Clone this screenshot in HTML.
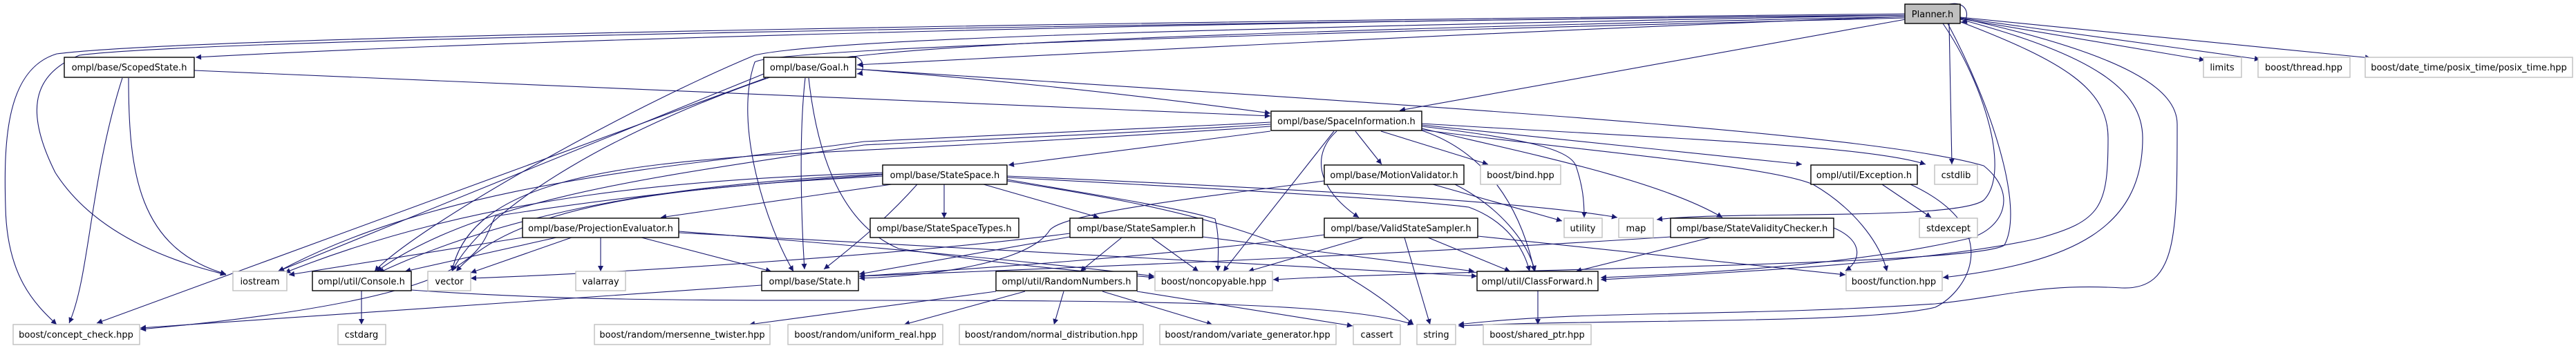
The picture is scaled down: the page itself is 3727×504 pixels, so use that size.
<!DOCTYPE html>
<html><head><meta charset="utf-8"><style>
html,body{margin:0;padding:0;background:#fff;}
svg{display:block;}
text{font-family:"DejaVu Sans","Liberation Sans",sans-serif;font-size:13px;fill:#000;}
.e{fill:none;stroke:#191970;stroke-width:1.1;}
.p{fill:#fff;stroke:#000;stroke-width:1.4;}
.s{fill:#fff;stroke:#bfbfbf;stroke-width:1.4;}
</style></head><body>
<svg width="3727" height="504" viewBox="0 0 3727 504" xmlns="http://www.w3.org/2000/svg">
<defs>
<marker id="a" viewBox="0 0 10 10" refX="10" refY="5" markerWidth="10" markerHeight="8" markerUnits="userSpaceOnUse" orient="auto">
<path d="M0,0 L10,5 L0,10 z" fill="#191970"/>
</marker>
</defs>
<g marker-end="url(#a)">
<!-- Planner edges -->
<path class="e" d="M2757,20 C1800,30 300,50 82,78 C10,100 5,200 8,300 C10,400 50,440 82,470"/>
<path class="e" d="M2757,22 C1800,32 300,55 115,80 C40,110 40,170 80,250 C150,360 300,390 327,398"/>
<path class="e" d="M2757,22 C1800,30 800,55 283,83"/>
<path class="e" d="M2757,24 C2300,40 1700,70 1240,94"/>
<path class="e" d="M2757,28 L2025,160"/>
<path class="e" d="M2757,22 C1800,40 1200,55 1092,80 C900,160 600,330 542,393"/>
<path class="e" d="M2757,24 C1800,45 1200,65 1150,100 C900,180 700,300 654,393"/>
<path class="e" d="M2757,26 C1800,50 1120,70 1092,90 C1060,180 1110,330 1148,393"/>
<path class="e" d="M2820,34 L2824,238"/>
<path class="e" d="M2811,34 C2870,120 2910,250 2870,290 C2830,320 2500,305 2397,318"/>
<path class="e" d="M2818,34 C2880,150 2930,300 2900,355 C2860,385 2100,390 1842,405"/>
<path class="e" d="M2832,30 C2990,90 3050,130 3050,200 C3050,300 3040,320 2950,345 C2800,380 2500,395 2316,405"/>
<path class="e" d="M2836,28 C3030,80 3100,130 3100,200 C3100,330 3000,380 2811,402"/>
<path class="e" d="M2836,26 C3080,80 3150,130 3150,180 C3150,340 3150,420 3070,417 C2950,410 2900,430 2800,440 C2500,460 2300,448 2110,470"/>
<path class="e" d="M2836,27 L3190,87"/>
<path class="e" d="M2836,26 L3270,86"/>
<path class="e" d="M2836,25 L3430,84"/>
<path class="e" d="M2820,6 C2850,0 2850,30 2838,32"/>
<!-- Goal -->
<path class="e" d="M1226,83 C1250,75 1255,105 1240,107"/>
<path class="e" d="M1239,100 C1500,120 1700,145 1838,164"/>
<path class="e" d="M1105,107 L402,393"/>
<path class="e" d="M1108,113 L140,468"/>
<path class="e" d="M1165,113 C1155,200 1160,330 1164,390"/>
<path class="e" d="M1170,113 C1185,250 1230,330 1300,360 C1500,390 1600,395 1670,402"/>
<path class="e" d="M1239,100 C2000,150 2700,190 2870,240 C2920,280 2900,330 2850,345 C2700,380 2500,395 2316,402"/>
<!-- ScopedState -->
<path class="e" d="M281,102 L1838,168"/>
<path class="e" d="M186,113 C186,250 200,360 327,397"/>
<path class="e" d="M177,113 C130,260 130,400 100,468"/>
<!-- SpaceInformation -->
<path class="e" d="M1838,190 L1459,239"/>
<path class="e" d="M1838,177 C1600,190 1350,200 1250,205 C1000,240 650,260 403,393"/>
<path class="e" d="M1838,180 C1600,195 1350,205 1250,210 C1000,250 700,280 545,393"/>
<path class="e" d="M1838,183 C1600,200 1300,215 1100,225 C900,240 680,260 654,393"/>
<path class="e" d="M1961,190 L1999,238"/>
<path class="e" d="M1998,190 L2153,238"/>
<path class="e" d="M1934,190 C1900,220 1900,270 1966,315"/>
<path class="e" d="M1930,190 L1770,393"/>
<path class="e" d="M2057,183 C2200,200 2270,215 2280,240 C2290,270 2292,290 2292,315"/>
<path class="e" d="M2057,186 C2200,220 2400,260 2492,315"/>
<path class="e" d="M2057,181 L2607,238"/>
<path class="e" d="M2057,179 C2400,200 2700,210 2786,238"/>
<path class="e" d="M2057,188 C2300,220 2560,240 2623,267 C2680,300 2720,350 2730,393"/>
<path class="e" d="M2057,189 C2150,220 2200,300 2220,393"/>
<!-- StateSpace -->
<path class="e" d="M1366,267 L1366,316"/>
<path class="e" d="M1423,267 L1590,315"/>
<path class="e" d="M1457,255 C1800,270 2200,290 2340,315"/>
<path class="e" d="M1457,257 C1800,275 2050,290 2125,300 C2180,320 2205,360 2213,393"/>
<path class="e" d="M1457,260 C1600,285 1700,300 1758,317 C1765,345 1762,370 1762,393"/>
<path class="e" d="M1457,262 C1700,300 1900,340 2045,470"/>
<path class="e" d="M1327,267 C1280,320 1230,360 1192,390"/>
<path class="e" d="M1290,267 L956,315"/>
<path class="e" d="M1277,253 C1000,270 800,300 717,313 C690,360 720,430 203,477"/>
<path class="e" d="M1277,250 C1000,260 700,280 412,395"/>
<path class="e" d="M1277,252 C1000,265 750,300 548,395"/>
<path class="e" d="M1277,255 C1000,270 750,290 660,393"/>
<!-- StateSampler -->
<path class="e" d="M1623,344 L1563,393"/>
<path class="e" d="M1666,344 L1734,393"/>
<path class="e" d="M1740,343 L2133,393"/>
<path class="e" d="M1548,343 L1243,397"/>
<path class="e" d="M1548,338 C1300,370 900,395 681,403"/>
<!-- ValidStateSampler -->
<path class="e" d="M1973,344 L1806,393"/>
<path class="e" d="M2032,344 L2069,470"/>
<path class="e" d="M2066,344 L2185,393"/>
<path class="e" d="M2138,342 C2400,370 2550,385 2670,398"/>
<path class="e" d="M1916,340 C1700,370 1400,390 1243,400"/>
<!-- MotionValidator -->
<path class="e" d="M1916,262 C1700,290 1540,310 1519,333 C1490,380 1350,400 1243,403"/>
<path class="e" d="M2073,267 L2260,320"/>
<path class="e" d="M2105,267 C2170,300 2210,350 2221,393"/>
<!-- StateValidityChecker -->
<path class="e" d="M2475,344 L2280,393"/>
<path class="e" d="M2418,343 C2000,370 1500,390 1243,400"/>
<path class="e" d="M2653,330 C2700,350 2690,380 2670,392"/>
<!-- Exception -->
<path class="e" d="M2723,267 L2794,315"/>
<path class="e" d="M2764,267 C2900,330 2850,420 2800,445 C2700,470 2300,462 2110,472"/>
<!-- ProjectionEvaluator -->
<path class="e" d="M756,344 L418,398"/>
<path class="e" d="M805,344 L586,393"/>
<path class="e" d="M827,344 L681,395"/>
<path class="e" d="M869,344 L869,393"/>
<path class="e" d="M928,344 L1116,393"/>
<path class="e" d="M982,337 C1400,360 1900,385 2137,400"/>
<path class="e" d="M982,335 C1300,360 1550,385 1670,400"/>
<!-- Console -->
<path class="e" d="M523,421 L523,470"/>
<path class="e" d="M595,420 C800,435 1000,435 1250,435 C1700,435 1950,440 2045,470"/>
<!-- State -->
<path class="e" d="M1102,413 L203,475"/>
<!-- RandomNumbers -->
<path class="e" d="M1441,422 L1084,470"/>
<path class="e" d="M1483,422 L1308,470"/>
<path class="e" d="M1539,422 L1525,470"/>
<path class="e" d="M1595,422 L1754,470"/>
<path class="e" d="M1645,422 L1957,472"/>
<!-- ClassForward -->
<path class="e" d="M2225,421 L2225,470"/>
</g>
<!-- nodes -->
<g>
<rect x="2756" y="6" width="80" height="28" fill="#bfbfbf" stroke="#000" stroke-width="1.4"/><text x="2796" y="25" text-anchor="middle">Planner.h</text>
<rect class="p" x="93" y="83" width="188" height="29"/><text x="187" y="102" text-anchor="middle">ompl/base/ScopedState.h</text>
<rect class="p" x="1105" y="83" width="133" height="29"/><text x="1171" y="102" text-anchor="middle">ompl/base/Goal.h</text>
<rect class="s" x="3188" y="83" width="55" height="29"/><text x="3215" y="102" text-anchor="middle">limits</text>
<rect class="s" x="3267" y="83" width="133" height="29"/><text x="3333" y="102" text-anchor="middle">boost/thread.hpp</text>
<rect class="s" x="3422" y="83" width="300" height="29"/><text x="3572" y="102" text-anchor="middle">boost/date_time/posix_time/posix_time.hpp</text>
<rect class="p" x="1839" y="161" width="218" height="28"/><text x="1948" y="180" text-anchor="middle">ompl/base/SpaceInformation.h</text>
<rect class="p" x="1277" y="239" width="180" height="28"/><text x="1367" y="258" text-anchor="middle">ompl/base/StateSpace.h</text>
<rect class="p" x="1916" y="239" width="202" height="28"/><text x="2017" y="258" text-anchor="middle">ompl/base/MotionValidator.h</text>
<rect class="s" x="2142" y="239" width="116" height="28"/><text x="2200" y="258" text-anchor="middle">boost/bind.hpp</text>
<rect class="p" x="2620" y="239" width="154" height="28"/><text x="2697" y="258" text-anchor="middle">ompl/util/Exception.h</text>
<rect class="s" x="2799" y="239" width="62" height="28"/><text x="2830" y="258" text-anchor="middle">cstdlib</text>
<rect class="p" x="756" y="316" width="226" height="28"/><text x="869" y="335" text-anchor="middle">ompl/base/ProjectionEvaluator.h</text>
<rect class="p" x="1259" y="316" width="215" height="28"/><text x="1366" y="335" text-anchor="middle">ompl/base/StateSpaceTypes.h</text>
<rect class="p" x="1548" y="316" width="192" height="28"/><text x="1644" y="335" text-anchor="middle">ompl/base/StateSampler.h</text>
<rect class="p" x="1916" y="316" width="222" height="28"/><text x="2027" y="335" text-anchor="middle">ompl/base/ValidStateSampler.h</text>
<rect class="s" x="2263" y="316" width="55" height="28"/><text x="2290" y="335" text-anchor="middle">utility</text>
<rect class="s" x="2342" y="316" width="50" height="28"/><text x="2367" y="335" text-anchor="middle">map</text>
<rect class="p" x="2417" y="316" width="236" height="28"/><text x="2535" y="335" text-anchor="middle">ompl/base/StateValidityChecker.h</text>
<rect class="s" x="2777" y="316" width="84" height="28"/><text x="2819" y="335" text-anchor="middle">stdexcept</text>
<rect class="s" x="337" y="393" width="78" height="28"/><text x="376" y="412" text-anchor="middle">iostream</text>
<rect class="p" x="452" y="393" width="143" height="28"/><text x="523" y="412" text-anchor="middle">ompl/util/Console.h</text>
<rect class="s" x="619" y="393" width="62" height="28"/><text x="650" y="412" text-anchor="middle">vector</text>
<rect class="s" x="833" y="393" width="72" height="28"/><text x="869" y="412" text-anchor="middle">valarray</text>
<rect class="p" x="1102" y="393" width="140" height="28"/><text x="1172" y="412" text-anchor="middle">ompl/base/State.h</text>
<rect class="p" x="1441" y="393" width="204" height="28"/><text x="1543" y="412" text-anchor="middle">ompl/util/RandomNumbers.h</text>
<rect class="s" x="1671" y="393" width="170" height="28"/><text x="1756" y="412" text-anchor="middle">boost/noncopyable.hpp</text>
<rect class="p" x="2137" y="393" width="175" height="28"/><text x="2224" y="412" text-anchor="middle">ompl/util/ClassForward.h</text>
<rect class="s" x="2671" y="393" width="139" height="28"/><text x="2740" y="412" text-anchor="middle">boost/function.hpp</text>
<rect class="s" x="19" y="470" width="183" height="29"/><text x="110" y="489" text-anchor="middle">boost/concept_check.hpp</text>
<rect class="s" x="489" y="470" width="69" height="29"/><text x="523" y="489" text-anchor="middle">cstdarg</text>
<rect class="s" x="860" y="470" width="254" height="29"/><text x="987" y="489" text-anchor="middle">boost/random/mersenne_twister.hpp</text>
<rect class="s" x="1140" y="470" width="224" height="29"/><text x="1252" y="489" text-anchor="middle">boost/random/uniform_real.hpp</text>
<rect class="s" x="1388" y="470" width="266" height="29"/><text x="1521" y="489" text-anchor="middle">boost/random/normal_distribution.hpp</text>
<rect class="s" x="1678" y="470" width="255" height="29"/><text x="1805" y="489" text-anchor="middle">boost/random/variate_generator.hpp</text>
<rect class="s" x="1958" y="470" width="68" height="29"/><text x="1992" y="489" text-anchor="middle">cassert</text>
<rect class="s" x="2050" y="470" width="56" height="29"/><text x="2078" y="489" text-anchor="middle">string</text>
<rect class="s" x="2146" y="470" width="156" height="29"/><text x="2224" y="489" text-anchor="middle">boost/shared_ptr.hpp</text>
</g>
</svg>
</body></html>
